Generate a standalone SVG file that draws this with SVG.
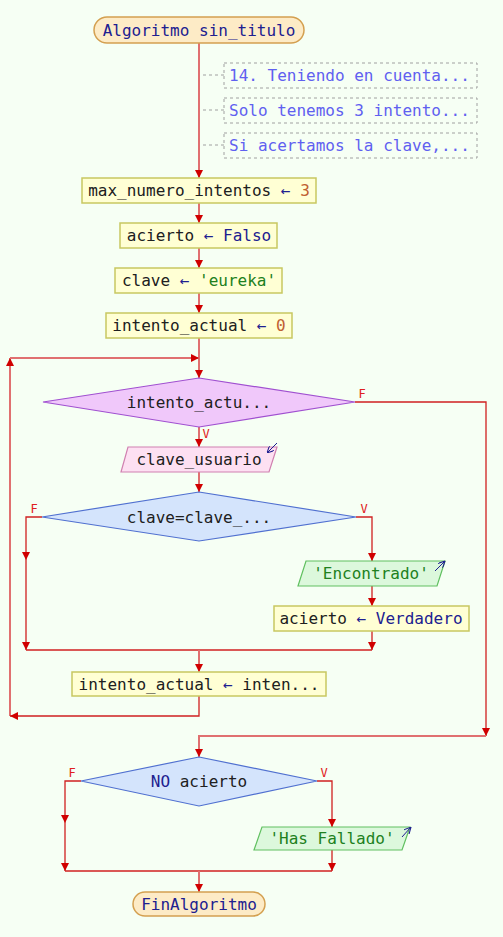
<svg xmlns="http://www.w3.org/2000/svg" width="503" height="937" viewBox="0 0 503 937">
<defs>
<marker id="ah" viewBox="0 0 8 8" refX="8" refY="4" markerWidth="8" markerHeight="8" markerUnits="userSpaceOnUse" orient="auto"><path d="M0,0 L8,4 L0,8 z" fill="#d00000"/></marker>
<marker id="sa" viewBox="0 0 8 8" refX="8" refY="4" markerWidth="7" markerHeight="7" markerUnits="userSpaceOnUse" orient="auto"><path d="M0,0 L8,4 L0,8" fill="none" stroke="#202090" stroke-width="1.2"/></marker>
<style>
text{font-family:"DejaVu Sans Mono","Liberation Mono",monospace;font-size:16px;fill:#202020;text-anchor:middle}
.term{fill:#fdebc6;stroke:#d4a050;stroke-width:1.5}
.proc{fill:#ffffd4;stroke:#c8c860;stroke-width:1.5}
.inp{fill:#fde0f2;stroke:#d080b0;stroke-width:1.2}
.out{fill:#dcf8dc;stroke:#60c060;stroke-width:1.2}
.wh{fill:#f0c8fa;stroke:#a050d0;stroke-width:1.2}
.if{fill:#d4e4fc;stroke:#5070d0;stroke-width:1.2}
.cm{fill:none;stroke:#a0a0a0;stroke-width:1;stroke-dasharray:3,3}
.cmt{fill:#6060f0;text-anchor:start}
.m{fill:none;stroke:#e07070;stroke-width:2}
.b{fill:none;stroke:#d02020;stroke-width:1.3}
.lb{font-size:12px;fill:#e02020}
.nv{fill:#202090}
.nm{fill:#c06030}
.st{fill:#208020}
.ic{fill:none;stroke:#202090;stroke-width:1}
</style>
</defs>
<rect width="503" height="937" fill="#f6fff4"/>
<g id="connectors">
<path class="m" d="M199,43 V178" marker-end="url(#ah)"/>
<path class="cm" d="M203,75 H224 M203,110 H224 M203,145 H224"/>
<path class="m" d="M199,203 V223" marker-end="url(#ah)"/>
<path class="m" d="M199,248 V268" marker-end="url(#ah)"/>
<path class="m" d="M199,293 V313" marker-end="url(#ah)"/>
<path class="m" d="M199,338 V378" marker-end="url(#ah)"/>
<path class="m" d="M10,716 V358" marker-end="url(#ah)"/>
<path class="m" d="M10,358 H199" marker-end="url(#ah)"/>
<path class="m" d="M199,427 V447" marker-end="url(#ah)"/>
<path class="b" d="M355,402 H486 V736" marker-end="url(#ah)"/>
<path class="m" d="M486,736 H199 V757" marker-end="url(#ah)"/>
<path class="m" d="M199,472 V492" marker-end="url(#ah)"/>
<path class="b" d="M42,517 H26 V560" marker-end="url(#ah)"/>
<path class="b" d="M26,560 V650" marker-end="url(#ah)"/>
<path class="b" d="M356,517 H372 V561" marker-end="url(#ah)"/>
<path class="b" d="M372,586 V606" marker-end="url(#ah)"/>
<path class="b" d="M372,631 V650" marker-end="url(#ah)"/>
<path class="b" d="M26,650 H372"/>
<path class="m" d="M199,650 V672" marker-end="url(#ah)"/>
<path class="b" d="M199,696 V716 H10" marker-end="url(#ah)"/>
<path class="b" d="M81,781 H65 V823" marker-end="url(#ah)"/>
<path class="b" d="M65,823 V871" marker-end="url(#ah)"/>
<path class="b" d="M317,781 H332 V827" marker-end="url(#ah)"/>
<path class="b" d="M332,850 V871" marker-end="url(#ah)"/>
<path class="b" d="M65,871 H332"/>
<path class="m" d="M199,871 V892" marker-end="url(#ah)"/>
<text class="lb" x="362" y="398">F</text>
<text class="lb" x="206" y="438">V</text>
<text class="lb" x="34" y="513">F</text>
<text class="lb" x="364" y="513">V</text>
<text class="lb" x="72" y="777">F</text>
<text class="lb" x="324" y="777">V</text>
</g>
<g id="start"><rect class="term" x="94" y="17" width="210" height="26" rx="13"/><text x="199" y="35.5" class="nv">Algoritmo sin_titulo</text></g>
<g id="c1"><rect class="cm" x="224" y="63" width="253" height="25"/><text class="cmt" x="229" y="81">14. Teniendo en cuenta...</text></g>
<g id="c2"><rect class="cm" x="224" y="98" width="253" height="25"/><text class="cmt" x="229" y="116">Solo tenemos 3 intento...</text></g>
<g id="c3"><rect class="cm" x="224" y="133" width="253" height="25"/><text class="cmt" x="229" y="151">Si acertamos la clave,...</text></g>
<g id="n1"><rect class="proc" x="82" y="178" width="234" height="25"/><text x="199" y="196">max_numero_intentos <tspan class="nv">←</tspan> <tspan class="nm">3</tspan></text></g>
<g id="n2"><rect class="proc" x="120" y="223" width="157" height="25"/><text x="199" y="241">acierto <tspan class="nv">← Falso</tspan></text></g>
<g id="n3"><rect class="proc" x="115" y="268" width="167" height="25"/><text x="199" y="286">clave <tspan class="nv">←</tspan> <tspan class="st">'eureka'</tspan></text></g>
<g id="n4"><rect class="proc" x="106" y="313" width="186" height="25"/><text x="199" y="331">intento_actual <tspan class="nv">←</tspan> <tspan class="nm">0</tspan></text></g>
<g id="while"><polygon class="wh" points="199,378 355,402 199,427 43,402"/><text x="199" y="408">intento_actu...</text></g>
<g id="read"><polygon class="inp" points="128,447 277,447 269,472 121,472"/><text x="199" y="465">clave_usuario</text><path class="ic" d="M277,443 L267,453" marker-end="url(#sa)"/></g>
<g id="if1"><polygon class="if" points="199,492 356,517 199,541 42,517"/><text x="199" y="523">clave=clave_...</text></g>
<g id="out1"><polygon class="out" points="306,561 445,561 437,586 298,586"/><text x="371" y="579" class="st">'Encontrado'</text><path class="ic" d="M435,571 L445,561" marker-end="url(#sa)"/></g>
<g id="n5"><rect class="proc" x="274" y="606" width="195" height="25"/><text x="371" y="624">acierto <tspan class="nv">← Verdadero</tspan></text></g>
<g id="n6"><rect class="proc" x="72" y="672" width="254" height="24"/><text x="199" y="690">intento_actual <tspan class="nv">←</tspan> inten...</text></g>
<g id="if2"><polygon class="if" points="199,757 317,781 199,806 81,781"/><text x="199" y="787"><tspan class="nv">NO</tspan> acierto</text></g>
<g id="out2"><polygon class="out" points="262,827 410,827 402,850 254,850"/><text x="332" y="844" class="st">'Has Fallado'</text><path class="ic" d="M402,837 L411,827" marker-end="url(#sa)"/></g>
<g id="end"><rect class="term" x="133" y="892" width="132" height="24" rx="12"/><text x="199" y="909.5" class="nv">FinAlgoritmo</text></g>
</svg>
